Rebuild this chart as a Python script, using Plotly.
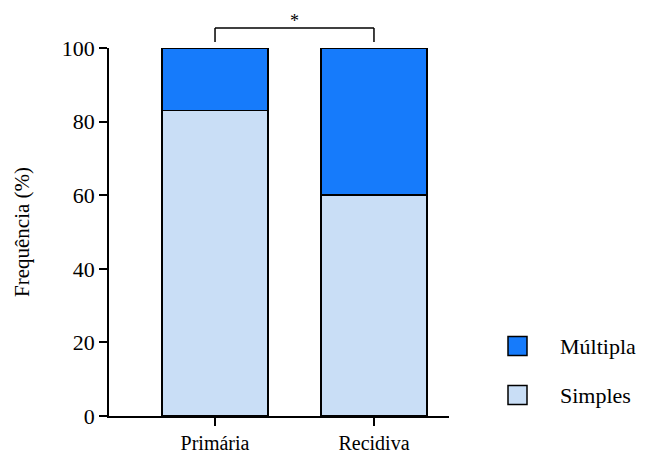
import plotly.graph_objects as go

# Tumour presentation frequency (%) by type
categories = ["Primária", "Recidiva"]
simples = [83, 60]
multipla = [17, 40]
y_ticks = [0, 20, 40, 60, 80, 100]

COLOR_SIMPLES = "#C9DEF6"
COLOR_MULTIPLA = "#167BFB"
FONT = "Liberation Serif"

fig = go.Figure()
fig.add_trace(go.Bar(x=categories, y=simples, name="Simples",
                     marker=dict(color=COLOR_SIMPLES, line=dict(color="black", width=1.5)),
                     width=0.667, showlegend=False))
fig.add_trace(go.Bar(x=categories, y=multipla, name="Múltipla",
                     marker=dict(color=COLOR_MULTIPLA, line=dict(color="black", width=1.5)),
                     width=0.667, showlegend=False))

fig.update_layout(
    barmode="stack",
    width=665, height=455,
    margin=dict(l=109, r=216, t=48, b=39),
    plot_bgcolor="white", paper_bgcolor="white",
    font=dict(family=FONT, color="black"),
    xaxis=dict(range=[-0.667, 1.472], showline=True, linecolor="black", linewidth=1.5,
               ticks="outside", ticklen=8, tickwidth=1.5, tickcolor="black",
               tickfont=dict(size=20, family=FONT), showgrid=False, zeroline=False,
               automargin=False),
    yaxis=dict(range=[0, 100], showline=True, linecolor="black", linewidth=1.5,
               tickvals=y_ticks, ticks="outside", ticklen=8, tickwidth=1.5, tickcolor="black",
               tickfont=dict(size=22, family=FONT), showgrid=False, zeroline=False,
               automargin=False),
)

# y-axis title
fig.add_annotation(text="Frequência (%)", xref="paper", yref="paper",
                   x=(22 - 109) / 340, y=0.5, showarrow=False, textangle=-90,
                   font=dict(size=21, family=FONT), xanchor="center", yanchor="middle")

# significance bracket between the two groups
top = 1 + 20 / 368
leg = 1 + 6 / 368
fig.add_shape(type="line", xref="x", yref="paper", x0=0, x1=0, y0=leg, y1=top,
              line=dict(color="black", width=1.5))
fig.add_shape(type="line", xref="x", yref="paper", x0=0, x1=1, y0=top, y1=top,
              line=dict(color="black", width=1.5))
fig.add_shape(type="line", xref="x", yref="paper", x0=1, x1=1, y0=leg, y1=top,
              line=dict(color="black", width=1.5))
fig.add_annotation(text="*", xref="x", yref="paper", x=0.5, y=top, yanchor="bottom",
                   showarrow=False, font=dict(size=18, family=FONT), yshift=-5)

# legend drawn as boxes with labels
legend_items = [("Múltipla", COLOR_MULTIPLA, 346), ("Simples", COLOR_SIMPLES, 395)]
for label, color, ypx in legend_items:
    yc = (416 - ypx) / 368
    fig.add_shape(type="rect", xref="paper", yref="paper",
                  x0=(508 - 109) / 340, x1=(527 - 109) / 340,
                  y0=yc - 9.5 / 368, y1=yc + 9.5 / 368,
                  fillcolor=color, line=dict(color="black", width=1.5))
    fig.add_annotation(text=label, xref="paper", yref="paper",
                       x=(558 - 109) / 340, y=yc, xanchor="left", yanchor="middle",
                       showarrow=False, font=dict(size=22, family=FONT))

fig.write_html("out.html")
